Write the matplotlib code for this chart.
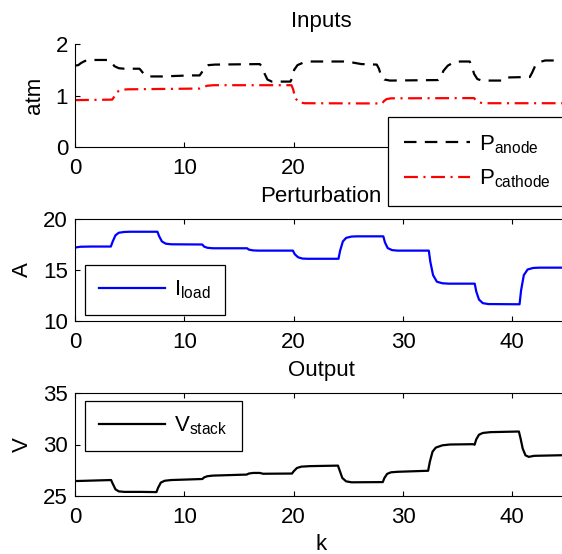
import matplotlib
matplotlib.use("Agg")
import matplotlib.pyplot as plt

plt.rcParams.update({
    "font.family": ["Liberation Sans", "DejaVu Sans"],
    "font.size": 16,
    "mathtext.fontset": "custom",
    "mathtext.rm": "Liberation Sans",
    "mathtext.it": "Liberation Sans:italic",
    "lines.scale_dashes": False,
    "axes.linewidth": 0.8,
})

# Inputs: anode / cathode pressures (atm)
k_anode = [0.0, 0.3, 0.55, 0.9, 1.3, 3.1, 3.3, 3.6, 4.0, 4.5, 5.9, 6.1, 6.35, 6.7, 8.0,
           10.5, 11.4, 11.6, 11.85, 12.2, 12.8, 16.9, 17.1, 17.35, 17.6, 18.0, 19.7,
           19.85, 20.05, 20.35, 20.9, 21.5, 24.6, 25.4, 26.2, 27.6, 27.8, 28.0, 28.3,
           28.8, 33.2, 33.45, 33.7, 34.1, 34.6, 35.2, 36.1, 36.3, 36.5, 36.8, 37.2,
           39.2, 39.5, 41.6, 41.8, 42.1, 42.5, 43.0, 45.0]
p_anode = [1.58, 1.59, 1.63, 1.67, 1.69, 1.69, 1.66, 1.57, 1.53, 1.52, 1.52, 1.47, 1.40,
           1.37, 1.37, 1.39, 1.39, 1.45, 1.55, 1.59, 1.60, 1.61, 1.56, 1.42, 1.31, 1.27,
           1.27, 1.33, 1.50, 1.59, 1.64, 1.66, 1.66, 1.64, 1.61, 1.60, 1.52, 1.38, 1.31,
           1.29, 1.30, 1.35, 1.48, 1.58, 1.64, 1.66, 1.66, 1.57, 1.42, 1.32, 1.29, 1.29,
           1.35, 1.36, 1.44, 1.58, 1.65, 1.68, 1.68]

k_cathode = [0.0, 3.4, 3.6, 3.85, 4.2, 4.8, 11.4, 11.7, 12.1, 12.7, 19.8, 19.95, 20.15,
             20.45, 21.0, 28.1, 28.25, 28.5, 28.9, 36.5, 36.65, 36.9, 37.3, 45.0]
p_cathode = [0.91, 0.92, 0.98, 1.07, 1.11, 1.12, 1.135, 1.16, 1.19, 1.20, 1.20, 1.12,
             0.95, 0.87, 0.85, 0.845, 0.89, 0.93, 0.945, 0.95, 0.91, 0.87, 0.85, 0.85]

# Perturbation: load current (A)
k_load = [0.0, 0.5, 1.5, 3.28, 3.45, 3.7, 4.0, 4.5, 5.0, 7.54, 7.7, 7.95, 8.3, 8.8,
          11.64, 11.8, 12.1, 12.6, 15.74, 15.9, 16.3, 16.8, 19.93, 20.1, 20.4, 20.8,
          21.3, 24.1, 24.25, 24.5, 24.8, 25.3, 25.8, 28.2, 28.35, 28.6, 29.0, 29.5,
          32.36, 32.5, 32.75, 33.1, 33.6, 34.2, 36.56, 36.7, 36.95, 37.3, 37.8, 40.66,
          40.8, 41.05, 41.4, 41.9, 42.5, 45.0]
i_load = [17.20, 17.28, 17.30, 17.30, 17.80, 18.40, 18.65, 18.73, 18.75, 18.75, 18.30,
          17.80, 17.58, 17.52, 17.50, 17.30, 17.18, 17.13, 17.13, 17.00, 16.92, 16.90,
          16.90, 16.55, 16.25, 16.12, 16.10, 16.10, 16.90, 17.80, 18.15, 18.28, 18.30,
          18.30, 17.70, 17.15, 16.95, 16.90, 16.90, 15.80, 14.50, 13.85, 13.70, 13.66,
          13.66, 12.90, 12.10, 11.75, 11.66, 11.64, 13.00, 14.50, 15.05, 15.20, 15.23,
          15.23]

# Output: stack voltage (V)
k_stack = [0.0, 1.0, 3.3, 3.45, 3.7, 4.0, 4.5, 6.0, 7.45, 7.6, 7.85, 8.2, 8.8, 11.65,
           11.8, 12.1, 12.6, 15.7, 15.9, 16.3, 16.9, 17.2, 19.85, 20.0, 20.3, 20.7, 21.5,
           24.05, 24.2, 24.45, 24.8, 25.3, 28.15, 28.3, 28.55, 28.9, 29.5, 32.3, 32.45,
           32.7, 33.0, 33.6, 34.3, 36.4, 36.55, 36.7, 36.95, 37.3, 38.0, 40.6, 40.75,
           40.95, 41.2, 41.5, 42.0, 45.0]
v_stack = [26.45, 26.48, 26.55, 26.20, 25.65, 25.45, 25.40, 25.40, 25.38, 25.80, 26.30,
           26.48, 26.55, 26.65, 26.80, 26.92, 26.98, 27.08, 27.18, 27.24, 27.24, 27.16,
           27.18, 27.40, 27.72, 27.85, 27.90, 27.95, 27.50, 26.75, 26.42, 26.33, 26.35,
           26.75, 27.15, 27.30, 27.35, 27.45, 28.30, 29.30, 29.70, 29.92, 30.00, 30.03,
           29.98, 30.50, 30.95, 31.12, 31.20, 31.26, 30.60, 29.60, 28.95, 28.80, 28.90,
           28.97]

x_ticks = [0, 10, 20, 30, 40]

W, H = 562, 554
fig = plt.figure(figsize=(W / 100, H / 100), dpi=100)


def px_axes(top, bottom, left=75, right=567):
    return fig.add_axes([left / W, 1 - bottom / H, (right - left) / W, (bottom - top) / H])


ax1 = px_axes(44, 147)
ax2 = px_axes(219, 321)
ax3 = px_axes(393, 496)

for ax in (ax1, ax2, ax3):
    ax.set_xlim(0, 45)
    ax.set_xticks(x_ticks)
    ax.tick_params(direction="in", length=3.5, width=0.8, pad=8, labelsize=16)
    ax.tick_params(axis="y", pad=5)

# top panel drawn without a box
ax1.spines["top"].set_visible(False)
ax1.spines["right"].set_visible(False)
ax1.tick_params(top=False, right=False)
for ax in (ax2, ax3):
    ax.tick_params(top=True, right=True)

lw = 1.6
ax1.plot(k_anode, p_anode, color="black", lw=lw, dashes=(9, 6),
         label=r"$\mathregular{P_{anode}}$")
ax1.plot(k_cathode, p_cathode, color="red", lw=lw, dashes=(10, 4, 1.5, 4),
         label=r"$\mathregular{P_{cathode}}$")
ax1.set_ylim(0, 2)
ax1.set_yticks([0, 1, 2])
ax1.set_title("Inputs", fontsize=16, pad=12)
ax1.set_ylabel("atm", fontsize=16, va="center")
ax1.yaxis.set_label_coords(-0.083, 0.5)

ax2.plot(k_load, i_load, color="blue", lw=lw, label=r"$\mathregular{I_{load}}$")
ax2.set_ylim(10, 20)
ax2.set_yticks([10, 15, 20])
ax2.set_title("Perturbation", fontsize=16, pad=12)
ax2.set_ylabel("A", fontsize=16, va="center")
ax2.yaxis.set_label_coords(-0.106, 0.5)

ax3.plot(k_stack, v_stack, color="black", lw=lw, label=r"$\mathregular{V_{stack}}$")
ax3.set_ylim(25, 35)
ax3.set_yticks([25, 30, 35])
ax3.set_title("Output", fontsize=16, pad=12)
ax3.set_ylabel("V", fontsize=16, va="center")
ax3.yaxis.set_label_coords(-0.106, 0.5)
ax3.set_xlabel("k", fontsize=16)
ax3.xaxis.set_label_coords(0.5, -0.37)

leg_kw = dict(frameon=True, fancybox=False, shadow=False, framealpha=1,
              edgecolor="black", fontsize=16, handlelength=3.0, handletextpad=0.4,
              borderaxespad=0, bbox_transform=fig.transFigure)

l1 = ax1.legend(loc="upper right", bbox_to_anchor=(567 / W, 1 - 117 / H),
                labelspacing=0.55, borderpad=0.72, **leg_kw)
l2 = ax2.legend(loc="upper left", bbox_to_anchor=(85 / W, 1 - 265 / H),
                borderpad=0.62, **leg_kw)
l3 = ax3.legend(loc="upper left", bbox_to_anchor=(85 / W, 1 - 401 / H),
                borderpad=0.62, **leg_kw)
for lg in (l1, l2, l3):
    lg.get_frame().set_linewidth(0.9)

fig.savefig("out.png", dpi=100)
